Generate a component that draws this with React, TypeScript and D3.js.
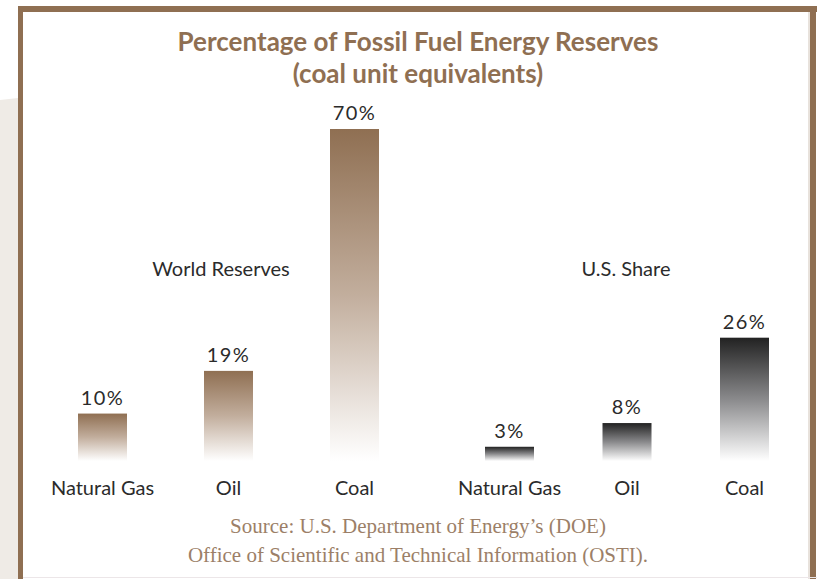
import React from "react";
import * as d3 from "d3";

const W = 817;
const H = 579;

const categories = ["Natural Gas", "Oil", "Coal"];
const worldValues = [10, 19, 70];
const usValues = [3, 8, 26];
const groupLabels = ["World Reserves", "U.S. Share"];
const titleLines = ["Percentage of Fossil Fuel Energy Reserves", "(coal unit equivalents)"];
const sourceLines = [
  "Source: U.S. Department of Energy\u2019s (DOE)",
  "Office of Scientific and Technical Information (OSTI).",
];

const BROWN = "#8f6f52";

export default function App() {
  const y = d3.scaleLinear().domain([0, 70]).range([461, 129]);
  const xWorld = d3.scalePoint<string>().domain(categories).range([102.5, 354.5]);
  const xUS = d3.scalePoint<string>().domain(categories).range([509.5, 744.5]);
  const barW = 49;
  const fmt = (v: number) => `${v}%`;

  const groups = [
    { values: worldValues, x: xWorld, grad: "gradWorld", label: groupLabels[0], labelX: 221 },
    { values: usValues, x: xUS, grad: "gradUS", label: groupLabels[1], labelX: 626 },
  ];

  const labelFont = "Lato, 'Open Sans', sans-serif";

  return (
    <div style={{ position: "fixed", left: 0, top: 0 }}>
      <svg width={W} height={H} style={{ display: "block", background: "#fff" }}>
        <defs>
          <linearGradient id="gradWorld" x1="0" y1="0" x2="0" y2="1">
            <stop offset="0" stopColor={BROWN} />
            <stop offset="0.5" stopColor="#c2ae9d" />
            <stop offset="1" stopColor="#ffffff" />
          </linearGradient>
          <linearGradient id="gradUS" x1="0" y1="0" x2="0" y2="1">
            <stop offset="0" stopColor="#222222" />
            <stop offset="0.5" stopColor="#8a8a8c" />
            <stop offset="1" stopColor="#ffffff" />
          </linearGradient>
        </defs>
        {/* left gray band */}
        <path d={`M0,100 L18,98 L18,${H} L0,${H} Z`} fill="#efebe6" />
        {/* frame */}
        <rect x={18} y={6} width={W - 18} height={6} fill={BROWN} />
        <rect x={18} y={6} width={5} height={H - 6} fill={BROWN} />
        <rect x={810} y={6} width={6} height={H - 6} fill={BROWN} />
        <rect x={808} y={12} width={2} height={H - 12} fill="#e8e2dc" />
        <line x1={23} x2={W} y1={577.5} y2={577.5} stroke="#ece6e8" strokeWidth={1} />

        {/* title */}
        {titleLines.map((t, i) => (
          <text
            key={t}
            x={418}
            y={51 + i * 32}
            textAnchor="middle"
            fontFamily={labelFont}
            fontWeight={700}
            fontSize={26}
            fill={BROWN}
          >
            {t}
          </text>
        ))}

        {groups.map((g) => (
          <g key={g.label}>
            <text
              x={g.labelX}
              y={276}
              textAnchor="middle"
              fontFamily={labelFont}
              fontSize={20}
              fill="#2b2b2b"
            >
              {g.label}
            </text>
            {categories.map((c, i) => {
              const cx = g.x(c) as number;
              const v = g.values[i];
              return (
                <g key={c}>
                  <rect
                    x={cx - barW / 2}
                    y={y(v)}
                    width={barW}
                    height={y(0) - y(v)}
                    fill={`url(#${g.grad})`}
                  />
                  <text
                    x={cx}
                    y={y(v) - 9}
                    textAnchor="middle"
                    fontFamily={labelFont}
                    fontSize={20}
                    letterSpacing={1.5}
                    fill="#2b2b2b"
                  >
                    {fmt(v)}
                  </text>
                  <text
                    x={cx}
                    y={495}
                    textAnchor="middle"
                    fontFamily={labelFont}
                    fontSize={20}
                    fill="#2b2b2b"
                  >
                    {c}
                  </text>
                </g>
              );
            })}
          </g>
        ))}

        {sourceLines.map((t, i) => (
          <text
            key={t}
            x={418}
            y={533 + i * 29}
            textAnchor="middle"
            fontFamily="'Liberation Serif', 'DejaVu Serif', serif"
            fontSize={21}
            fill="#9c7f68"
          >
            {t}
          </text>
        ))}
      </svg>
    </div>
  );
}
